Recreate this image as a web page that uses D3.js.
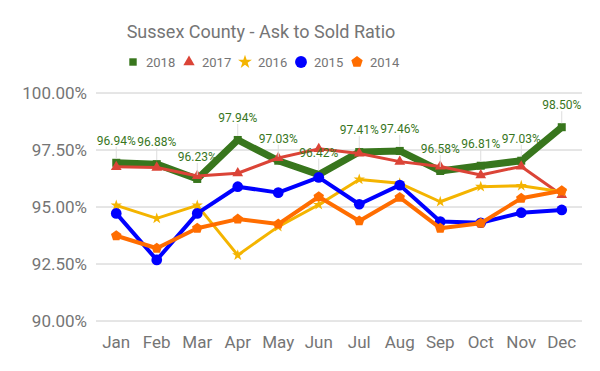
<!DOCTYPE html>
<html>
<head>
<meta charset="utf-8">
<script src="https://cdn.jsdelivr.net/npm/d3@7"></script>
<style>
  body { margin: 0; background: #fff; }
  text { font-family: Roboto, "Noto Sans", sans-serif; }
</style>
</head>
<body>
<div id="chart"></div>
<script>
const months = ["Jan", "Feb", "Mar", "Apr", "May", "Jun", "Jul", "Aug", "Sep", "Oct", "Nov", "Dec"];
const yTicks = [90, 92.5, 95, 97.5, 100];

const v2018 = [96.94, 96.88, 96.23, 97.94, 97.03, 96.42, 97.41, 97.46, 96.58, 96.81, 97.03, 98.50];
const v2017 = [96.76, 96.73, 96.36, 96.48, 97.15, 97.55, 97.35, 96.99, 96.78, 96.40, 96.78, 95.53];
const v2016 = [95.07, 94.50, 95.07, 92.89, 94.14, 95.10, 96.21, 96.04, 95.23, 95.89, 95.93, 95.67];
const v2015 = [94.72, 92.68, 94.72, 95.89, 95.63, 96.30, 95.12, 95.96, 94.36, 94.31, 94.75, 94.87];
const v2014 = [93.74, 93.19, 94.07, 94.47, 94.25, 95.45, 94.39, 95.42, 94.07, 94.29, 95.38, 95.71];

const series = [
  { name: "2018", values: v2018, color: "#38761d", width: 7, symbol: d3.symbolSquare, size: 64, labels: true },
  { name: "2017", values: v2017, color: "#db4437", width: 3, symbol: d3.symbolTriangle, size: 50 },
  { name: "2016", values: v2016, color: "#f4b400", width: 3, symbol: d3.symbolStar, size: 40 },
  { name: "2015", values: v2015, color: "#0000ff", width: 4, symbol: d3.symbolCircle, size: 90 },
  { name: "2014", values: v2014, color: "#ff6d00", width: 4, symbol: d3.symbolCircle, size: 70, pent: true }
];

const width = 600, height = 371;
const svg = d3.select("#chart").append("svg")
  .attr("width", width)
  .attr("height", height);

const x = d3.scaleBand().domain(months).range([96, 582]);
const y = d3.scaleLinear().domain([90, 100]).range([321, 93]);

// title
svg.append("text")
  .attr("x", 261).attr("y", 38)
  .attr("text-anchor", "middle")
  .style("font-size", "18px")
  .style("fill", "#757575")
  .text("Sussex County - Ask to Sold Ratio");

// gridlines
svg.append("g")
  .selectAll("line")
  .data(yTicks)
  .join("line")
  .attr("x1", 96).attr("x2", 582)
  .attr("y1", d => y(d)).attr("y2", d => y(d))
  .attr("stroke", "#cccccc")
  .attr("stroke-width", 1);

// y axis labels
svg.append("g")
  .selectAll("text")
  .data(yTicks)
  .join("text")
  .attr("x", 87)
  .attr("y", d => y(d) + 6)
  .attr("text-anchor", "end")
  .style("font-size", "17px")
  .style("fill", "#757575")
  .text(d => d.toFixed(2) + "%");

// x axis labels
svg.append("g")
  .selectAll("text")
  .data(months)
  .join("text")
  .attr("x", d => x(d) + x.bandwidth() / 2)
  .attr("y", 348)
  .attr("text-anchor", "middle")
  .style("font-size", "17px")
  .style("fill", "#757575")
  .text(d => d);

const cx = (d, i) => x(months[i]) + x.bandwidth() / 2;

function pentagon(r) {
  const pts = d3.range(5).map(k => {
    const a = -Math.PI / 2 + k * 2 * Math.PI / 5;
    return [r * Math.cos(a), r * Math.sin(a)];
  });
  return "M" + pts.map(p => p.join(",")).join("L") + "Z";
}

const line = d3.line().x(cx).y(d => y(d));

series.forEach(s => {
  const g = svg.append("g");
  g.append("path")
    .datum(s.values)
    .attr("d", line)
    .attr("fill", "none")
    .attr("stroke", s.color)
    .attr("stroke-width", s.width)
    .attr("stroke-linejoin", "round");
  g.selectAll("path.pt")
    .data(s.values)
    .join("path")
    .attr("class", "pt")
    .attr("transform", (d, i) => `translate(${cx(d, i)},${y(d)})`)
    .attr("d", s.pent ? pentagon(5.5) : d3.symbol(s.symbol, s.size)())
    .attr("fill", s.color);
});

// data labels for 2018
const lab = svg.append("g");
v2018.forEach((v, i) => {
  const px = cx(v, i), py = y(v);
  lab.append("line")
    .attr("x1", px).attr("x2", px)
    .attr("y1", py - 4).attr("y2", py - 16)
    .attr("stroke", "#dddddd")
    .attr("stroke-width", 1);
  lab.append("text")
    .attr("x", px).attr("y", py - 18)
    .attr("text-anchor", "middle")
    .style("font-size", "12px")
    .style("fill", "#38761d")
    .text(v.toFixed(2) + "%");
});

// legend
const legendItems = [
  { x: 133, name: "2018" },
  { x: 189, name: "2017" },
  { x: 245, name: "2016" },
  { x: 301, name: "2015" },
  { x: 357, name: "2014" }
];
const leg = svg.append("g");
legendItems.forEach((it, k) => {
  const s = series[k];
  leg.append("path")
    .attr("transform", `translate(${it.x},62)`)
    .attr("d", s.pent ? pentagon(6) : d3.symbol(s.symbol, s.name === "2015" ? 110 : (s.name === "2016" ? 60 : 55))())
    .attr("fill", s.color);
  leg.append("text")
    .attr("x", it.x + 13).attr("y", 66.5)
    .style("font-size", "13px")
    .style("fill", "#757575")
    .text(it.name);
});
</script>
</body>
</html>
